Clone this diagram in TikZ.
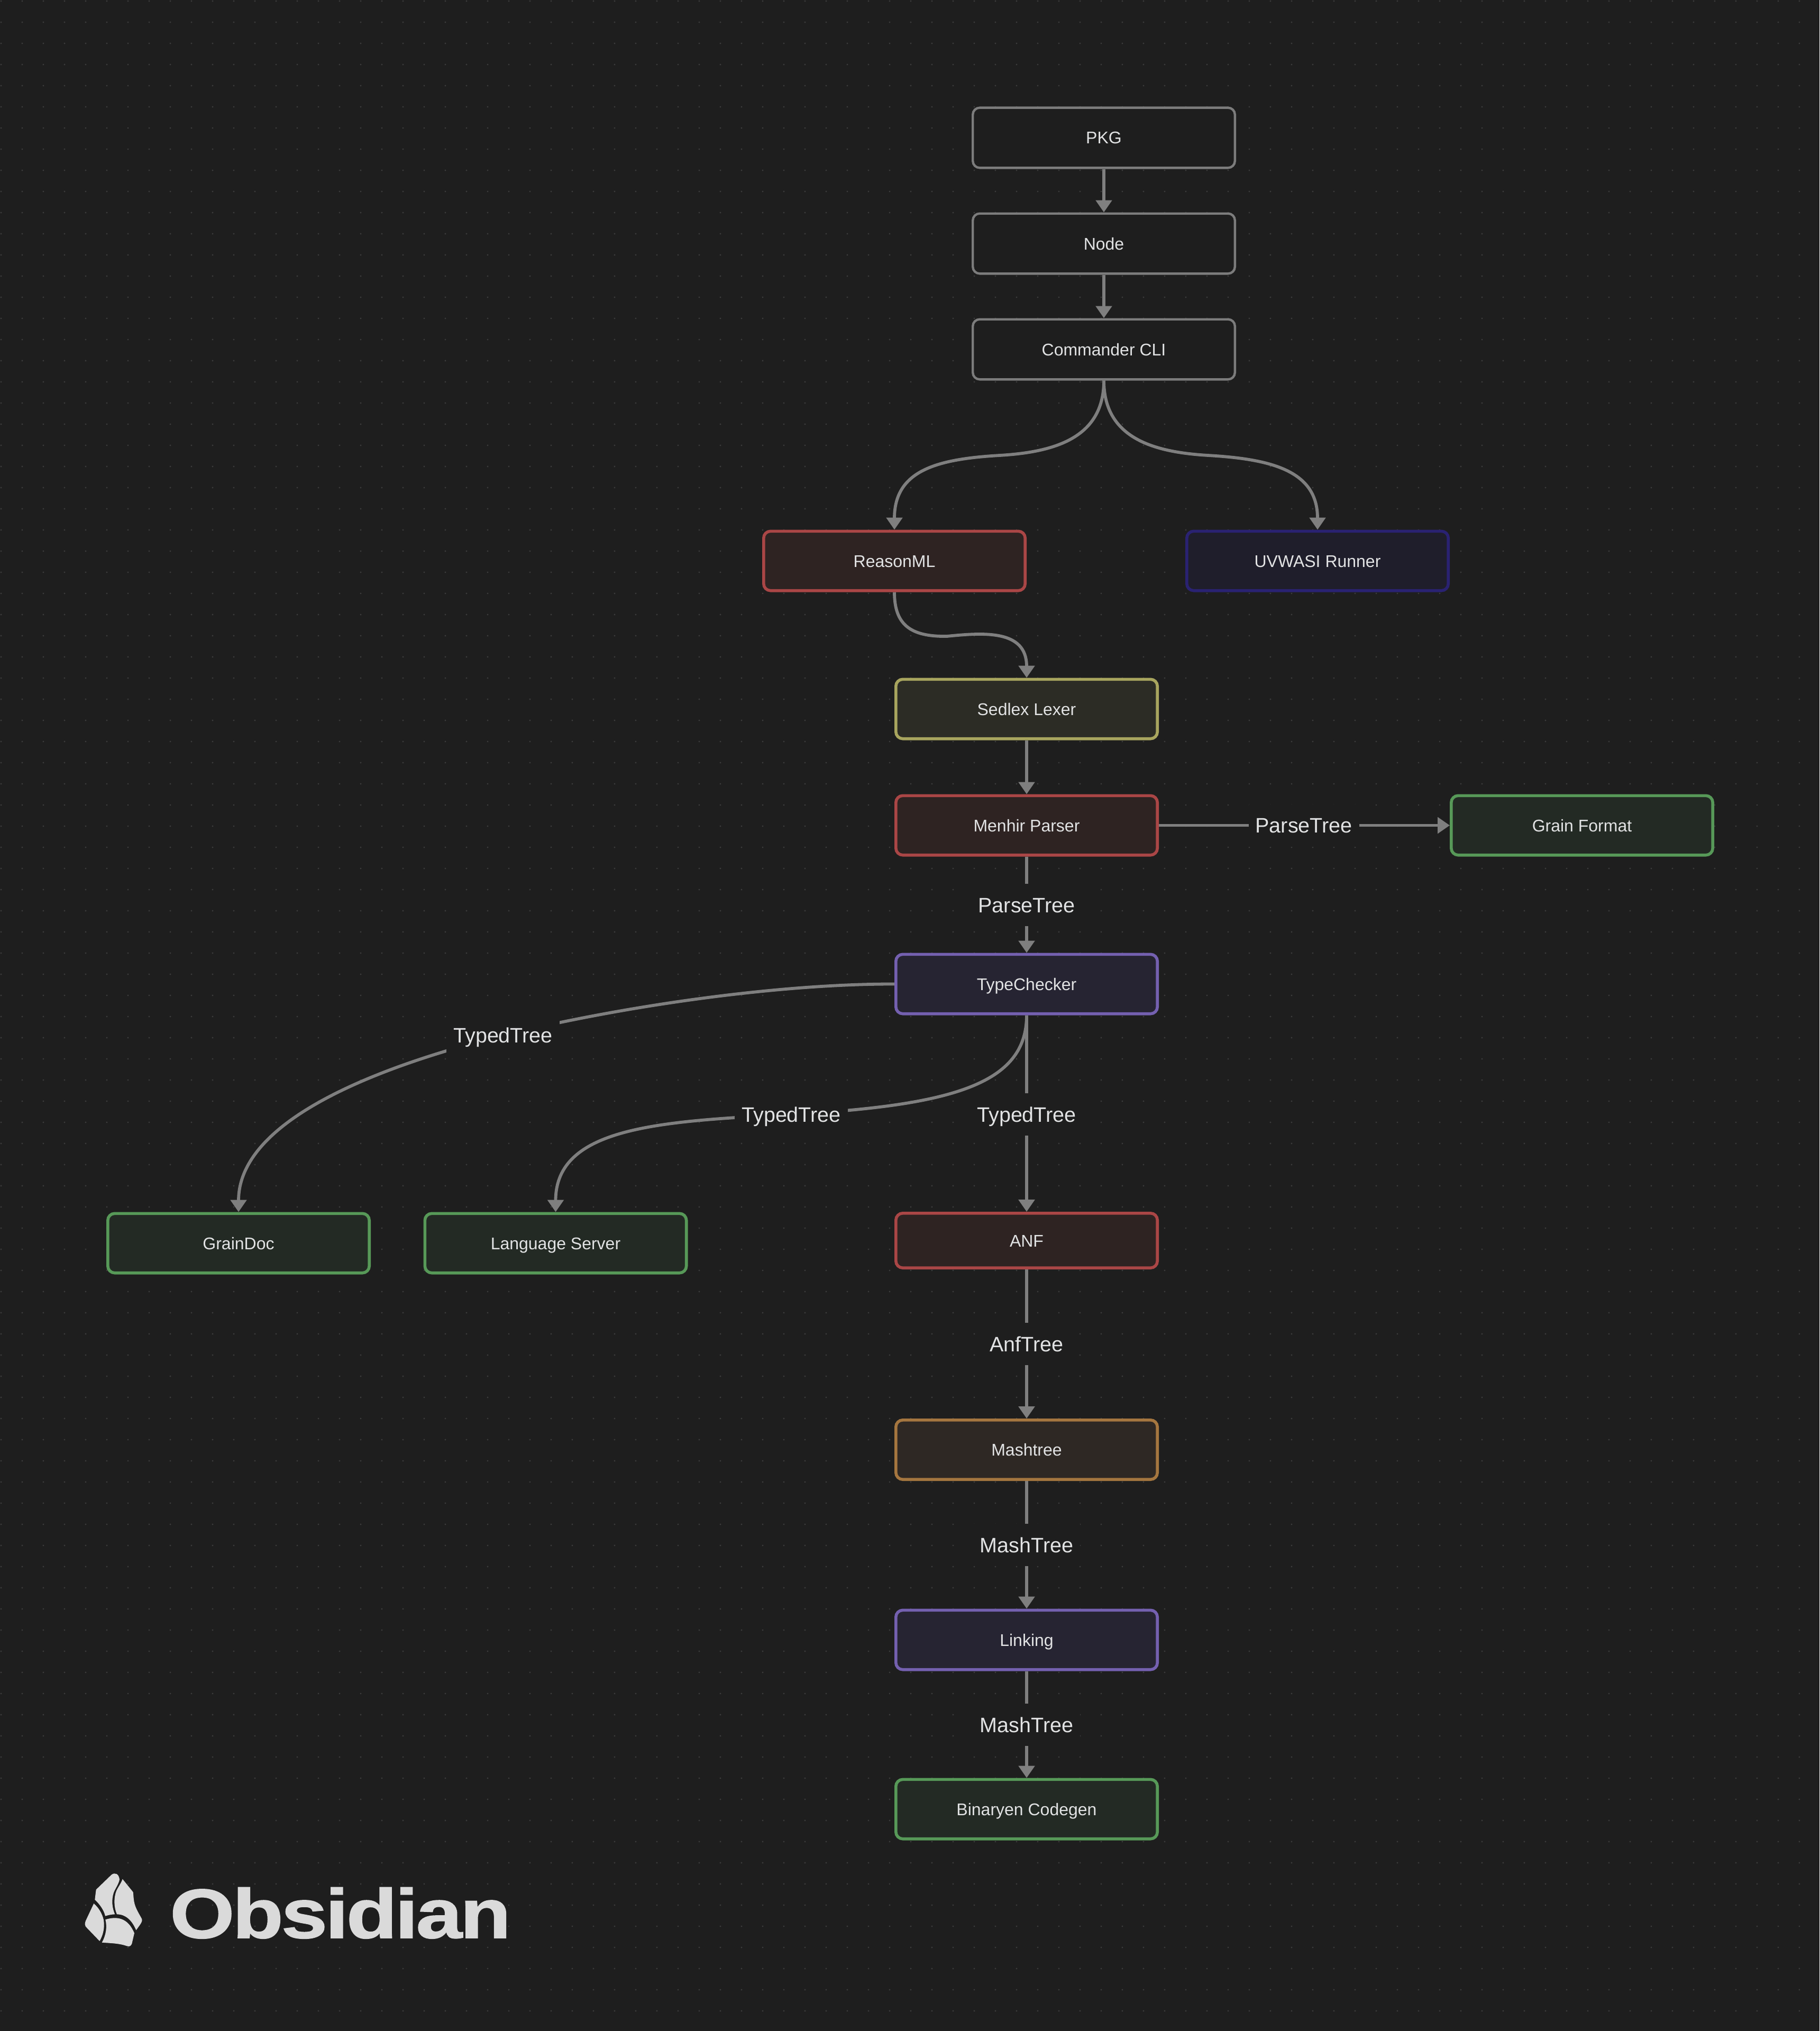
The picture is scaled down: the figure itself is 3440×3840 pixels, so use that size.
\documentclass[tikz,border=0pt]{standalone}
\usepackage{fontspec}
\setmainfont{Liberation Sans}
\newfontfamily\wordfont[FakeBold=1.2, LetterSpace=-2.5]{Liberation Sans Bold}
\usetikzlibrary{arrows.meta}
\definecolor{canvas}{HTML}{1E1E1E}
\definecolor{griddot}{HTML}{3C3C3C}
\definecolor{wire}{HTML}{7F7F7F}
\definecolor{inktext}{HTML}{E2E3E4}
\definecolor{logoink}{HTML}{DADADA}
\definecolor{sgrey}{HTML}{7C7C7C}
\definecolor{sred}{HTML}{AA4646}
\definecolor{fred}{HTML}{2E2322}
\definecolor{sblue}{HTML}{2A2272}
\definecolor{fblue}{HTML}{1F1E2B}
\definecolor{syellow}{HTML}{A8A55E}
\definecolor{fyellow}{HTML}{2C2C25}
\definecolor{sgreen}{HTML}{579958}
\definecolor{fgreen}{HTML}{232A24}
\definecolor{spurple}{HTML}{7460B0}
\definecolor{fpurple}{HTML}{262432}
\definecolor{sorange}{HTML}{A5763F}
\definecolor{forange}{HTML}{2E2824}
\pgfdeclarelayer{backdrop}
\pgfdeclarelayer{wires}
\pgfsetlayers{backdrop,wires,main}
\tikzset{
  nodebox/.style={draw=#1, line width=5.6pt, rounded corners=13pt, minimum width=494.4pt, minimum height=112.4pt,
    inner sep=0pt, text=inktext, font=\fontsize{32}{36}\selectfont, text height=23pt, text depth=0pt},
  neutralbox/.style={nodebox=sgrey, fill=canvas, line width=4.4pt, minimum width=495.6pt, minimum height=113.6pt},
  redbox/.style={nodebox=sred, fill=fred},
  bluebox/.style={nodebox=sblue, fill=fblue},
  yellowbox/.style={nodebox=syellow, fill=fyellow},
  greenbox/.style={nodebox=sgreen, fill=fgreen},
  purplebox/.style={nodebox=spurple, fill=fpurple},
  orangebox/.style={nodebox=sorange, fill=forange},
  edgelabel/.style={fill=canvas, text=inktext, inner xsep=13pt, inner ysep=0pt, minimum height=80pt,
    font=\fontsize{39.5}{44}\selectfont, text height=28pt, text depth=0pt},
  wireline/.style={draw=wire, line width=5.8pt, -{Triangle[length=23pt,width=30pt]}},
  logopiece/.style={fill=logoink, draw=none},
  dotrow/.style={draw=griddot, line width=3.2pt, line cap=round, dash pattern=on 0pt off 40pt}
}
\begin{document}
\begin{tikzpicture}[x=1pt,y=-1pt]
\useasboundingbox (0,0) rectangle (3440,3840);
\begin{pgfonlayer}{backdrop}
  \fill[canvas] (0,0) rectangle (3440,3840);
  \foreach \j in {0,...,95} { \draw[dotrow] (2,{2+40*\j}) -- (3440,{2+40*\j}); }
\end{pgfonlayer}

% nodes
\node[neutralbox] (pkg) at (2087,260.5) {PKG};
\node[neutralbox] (nodejs) at (2087,460.5) {Node};
\node[neutralbox] (cli) at (2087,660.5) {Commander CLI};
\node[redbox] (reason) at (1691,1060.5) {ReasonML};
\node[bluebox] (uvwasi) at (2491,1060.5) {UVWASI Runner};
\node[yellowbox] (sedlex) at (1941,1340.5) {Sedlex Lexer};
\node[redbox] (menhir) at (1941,1560.5) {Menhir Parser};
\node[greenbox] (grainfmt) at (2991,1560.5) {Grain Format};
\node[purplebox] (typecheck) at (1941,1860.5) {TypeChecker};
\node[greenbox] (graindoc) at (451,2350.5) {GrainDoc};
\node[greenbox] (langserver) at (1050.5,2350.5) {Language Server};
\node[redbox, minimum height=103.4pt] (anf) at (1941,2345.5) {ANF};
\node[orangebox] (mashtree) at (1941,2741) {Mashtree};
\node[purplebox] (linking) at (1941,3100.5) {Linking};
\node[greenbox] (binaryen) at (1941,3420.5) {Binaryen Codegen};

% edge labels
\node[edgelabel] (lfmt) at (2465,1560.5) {ParseTree};
\node[edgelabel] (ltc) at (1941,1711) {ParseTree};
\node[edgelabel] (ldoc) at (951,1957.5) {TypedTree};
\node[edgelabel] (lls) at (1496,2107) {TypedTree};
\node[edgelabel] (lanf) at (1941,2107) {TypedTree};
\node[edgelabel] (lmash) at (1941,2541) {AnfTree};
\node[edgelabel] (llink) at (1941,2921) {MashTree};
\node[edgelabel] (lbin) at (1941,3261) {MashTree};

% connectors
\begin{pgfonlayer}{wires}
  \draw[wireline] (pkg.south) -- (nodejs.north);
  \draw[wireline] (nodejs.south) -- (cli.north);
  \draw[wireline] (cli.south) .. controls (2087,830) and (1990,855) .. (1890,861) .. controls (1770,868) and (1691,890) .. (reason.north);
  \draw[wireline] (cli.south) .. controls (2087,830) and (2184,855) .. (2284,861) .. controls (2404,868) and (2491,890) .. (uvwasi.north);
  \draw[wireline] (reason.south) .. controls (1691,1180) and (1720,1204) .. (1790,1203) .. controls (1860,1196) and (1941,1190) .. (sedlex.north);
  \draw[wireline] (sedlex.south) -- (menhir.north);
  \draw[wireline] (menhir.east) -- (lfmt.center) -- (grainfmt.west);
  \draw[wireline] (menhir.south) -- (ltc.center) -- (typecheck.north);
  \draw[wireline] (typecheck.west) .. controls (1480,1860) and (1191,1899) .. (ldoc.center) .. controls (781,2000) and (451,2100) .. (graindoc.north);
  \draw[wireline] (typecheck.south) .. controls (1941,2050) and (1800,2090) .. (lls.center) .. controls (1250,2120) and (1050.5,2130) .. (langserver.north);
  \draw[wireline] (typecheck.south) -- (lanf.center) -- (anf.north);
  \draw[wireline] (anf.south) -- (lmash.center) -- (mashtree.north);
  \draw[wireline] (mashtree.south) -- (llink.center) -- (linking.north);
  \draw[wireline] (linking.south) -- (lbin.center) -- (binaryen.north);
\end{pgfonlayer}

% logo
\begin{scope}[xshift=140pt, yshift=-3520pt, x=0.3333pt, y=-0.3333pt]
  \fill[logopiece] (118,215) -- (125,158) -- (212,74) .. controls (232,58) and (254,68) .. (258,100) .. controls (254,125) and (235,150) .. (225,175) .. controls (212,215) and (215,260) .. (232,298) .. controls (215,298) and (195,302) .. (177,308) .. controls (170,275) and (145,240) .. (118,215) -- cycle;
  \fill[logopiece] (275,98) -- (335,172) .. controls (338,200) and (338,220) .. (344,240) .. controls (352,270) and (372,300) .. (385,325) .. controls (388,338) and (384,345) .. (352,388) .. controls (330,335) and (295,298) .. (243,298) .. controls (225,255) and (225,205) .. (240,165) .. controls (252,140) and (268,120) .. (275,98) -- cycle;
  \fill[logopiece] (112,237) .. controls (140,260) and (160,295) .. (168,330) .. controls (175,375) and (165,415) .. (145,450) -- (70,372) .. controls (60,360) and (60,350) .. (66,335) -- cycle;
  \fill[logopiece] (178,328) .. controls (240,308) and (305,315) .. (342,405) -- (328,465) .. controls (322,480) and (312,482) .. (300,478) .. controls (255,462) and (205,462) .. (158,458) .. controls (182,415) and (188,370) .. (178,328) -- cycle;
\end{scope}
\node[anchor=base west, inner sep=0pt, text=logoink, font=\fontsize{132}{140}\selectfont\wordfont, xscale=1.19, transform shape] (wordmark) at (321,3664) {Obsidian};
\end{tikzpicture}
\end{document}
